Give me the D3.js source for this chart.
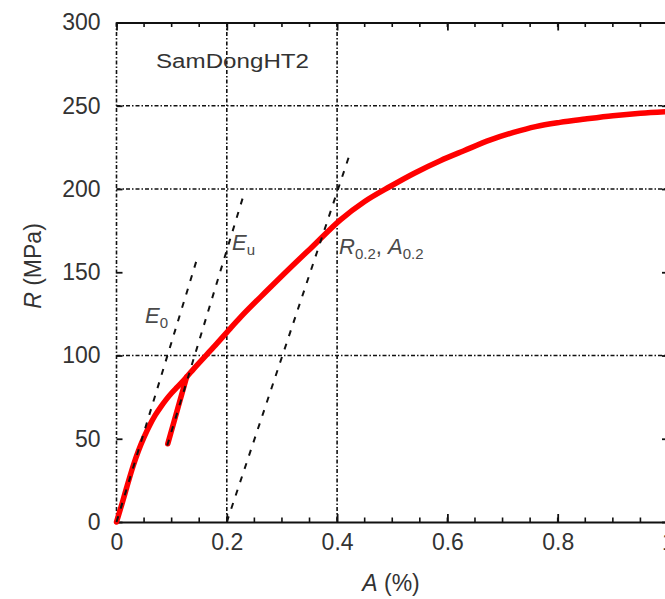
<!DOCTYPE html>
<html>
<head>
<meta charset="utf-8">
<script src="https://cdn.jsdelivr.net/npm/d3@7"></script>
<style>
  html, body { margin: 0; padding: 0; background: #fff; }
  svg { display: block; font-family: "Liberation Sans", Arial, sans-serif; }
</style>
</head>
<body>
<svg id="chart" width="665" height="599"></svg>
<script>
// Stress-strain curve (A in %, R in MPa)
const loadA = [0, 0.01, 0.02, 0.03, 0.04, 0.05, 0.06, 0.07, 0.08, 0.09, 0.1, 0.11, 0.12, 0.127,
  0.14, 0.176, 0.207, 0.225, 0.273, 0.335, 0.351, 0.406, 0.45, 0.496, 0.54, 0.587, 0.63,
  0.678, 0.72, 0.76, 0.804, 0.85, 0.9, 0.95, 1.0];
const loadR = [0, 11, 22.5, 33.5, 43, 51, 58, 64, 69, 73.5, 77.5, 81, 84.5, 87,
  92, 105, 116.5, 123, 139, 159, 164, 181.5, 192.5, 201.5, 209.5, 217, 223,
  229.5, 234, 237.5, 240, 242, 244, 245.5, 246.5];

// Small unloading branch of the loop
const unloadA = [0.127, 0.11, 0.093];
const unloadR = [87, 67, 47];

// Dashed modulus lines
const eZeroA = [0, 0.146];
const eZeroR = [0, 158];
const eUnloadA = [0.092, 0.232];
const eUnloadR = [46, 198];
const offsetA = [0.2, 0.423];
const offsetR = [0, 221];

// Axes / grid
const xTicks = [0, 0.2, 0.4, 0.6, 0.8, 1];
const xMinorTicks = d3.range(0, 1.0001, 0.05);
const yTicks = [0, 50, 100, 150, 200, 250, 300];
const gridX = [0.2, 0.4];
const gridY = [100, 200, 250];

const svg = d3.select('#chart');

const x = d3.scaleLinear().domain([0, 1]).range([116.5, 668]);
const y = d3.scaleLinear().domain([0, 300]).range([522, 22.5]);

const dashDot = '4,2,1.5,2';
const textColor = '#333';

// Grid lines
const grid = svg.append('g').attr('class', 'grid')
  .attr('stroke', '#111')
  .attr('stroke-width', 1.6)
  .attr('stroke-dasharray', dashDot);

grid.selectAll('line.gx')
  .data(gridX)
  .join('line')
  .attr('class', 'gx')
  .attr('x1', d => x(d)).attr('x2', d => x(d))
  .attr('y1', y(300)).attr('y2', y(0));

grid.selectAll('line.gy')
  .data(gridY)
  .join('line')
  .attr('class', 'gy')
  .attr('x1', x(0)).attr('x2', x(1))
  .attr('y1', d => y(d)).attr('y2', d => y(d));

// Left and right frame lines are dotted too
grid.selectAll('line.gside')
  .data([0, 1])
  .join('line')
  .attr('class', 'gside')
  .attr('x1', d => x(d)).attr('x2', d => x(d))
  .attr('y1', y(300)).attr('y2', y(0));

// Bottom axis: solid, ticks pointing up (inward)
const bottomAxis = svg.append('g').attr('class', 'x-axis')
  .attr('transform', `translate(0,${y(0)})`)
  .call(d3.axisBottom(x).tickValues(xTicks).tickSizeInner(-8).tickSizeOuter(0)
    .tickFormat(d => d3.format('~g')(d)));
bottomAxis.select('.domain').attr('stroke', '#111').attr('stroke-width', 2);
bottomAxis.selectAll('.tick line').attr('stroke', '#111').attr('stroke-width', 1.8);
bottomAxis.selectAll('.tick text')
  .attr('y', 12)
  .attr('dy', '0.71em')
  .attr('fill', textColor)
  .style('font-size', '23px');

svg.append('g').attr('class', 'x-minor')
  .selectAll('line')
  .data(xMinorTicks)
  .join('line')
  .attr('x1', d => x(d)).attr('x2', d => x(d))
  .attr('y1', y(0)).attr('y2', y(0) - 4.5)
  .attr('stroke', '#111').attr('stroke-width', 1.6);

// Top axis: solid, ticks pointing down
const topAxis = svg.append('g').attr('class', 'x-axis-top')
  .attr('transform', `translate(0,${y(300)})`)
  .call(d3.axisTop(x).tickValues(xTicks).tickSizeInner(-8).tickSizeOuter(0).tickFormat(''));
topAxis.select('.domain').attr('stroke', '#111').attr('stroke-width', 2);
topAxis.selectAll('.tick line').attr('stroke', '#111').attr('stroke-width', 1.8);

svg.append('g').attr('class', 'x-minor-top')
  .selectAll('line')
  .data(xMinorTicks)
  .join('line')
  .attr('x1', d => x(d)).attr('x2', d => x(d))
  .attr('y1', y(300)).attr('y2', y(300) + 4.5)
  .attr('stroke', '#111').attr('stroke-width', 1.6);

// Left axis: labels + inward ticks (frame line itself is the dotted one above)
const leftAxis = svg.append('g').attr('class', 'y-axis')
  .attr('transform', `translate(${x(0)},0)`)
  .call(d3.axisLeft(y).tickValues(yTicks).tickSizeInner(-6).tickSizeOuter(0));
leftAxis.select('.domain').remove();
leftAxis.selectAll('.tick line').attr('stroke', '#111').attr('stroke-width', 1.8);
leftAxis.selectAll('.tick text')
  .attr('x', -16)
  .attr('fill', textColor)
  .style('font-size', '23px');

// Right axis ticks pointing inward
const rightAxis = svg.append('g').attr('class', 'y-axis-right')
  .attr('transform', `translate(${x(1)},0)`)
  .call(d3.axisRight(y).tickValues(yTicks).tickSizeInner(-6).tickSizeOuter(0).tickFormat(''));
rightAxis.select('.domain').remove();
rightAxis.selectAll('.tick line').attr('stroke', '#111').attr('stroke-width', 1.8);

const line = d3.line().x(d => x(d[0])).y(d => y(d[1]));

// Measured curve: loading path (smooth) + the unloading branch
const smooth = d3.line().x(d => x(d[0])).y(d => y(d[1])).curve(d3.curveMonotoneX);
const curves = svg.append('g').attr('class', 'curve')
  .attr('fill', 'none')
  .attr('stroke', '#f00')
  .attr('stroke-width', 5.5)
  .attr('stroke-linejoin', 'round')
  .attr('stroke-linecap', 'round');

curves.append('path')
  .datum(d3.zip(loadA, loadR))
  .attr('d', smooth);

curves.append('path')
  .datum(d3.zip(unloadA, unloadR))
  .attr('d', line);

// Dashed modulus / offset lines, drawn over the curve
const dashed = [
  d3.zip(eZeroA, eZeroR),
  d3.zip(eUnloadA, eUnloadR),
  d3.zip(offsetA, offsetR)
];
svg.append('g').attr('class', 'moduli')
  .selectAll('path')
  .data(dashed)
  .join('path')
  .attr('d', line)
  .attr('fill', 'none')
  .attr('stroke', '#111')
  .attr('stroke-width', 2)
  .attr('stroke-dasharray', '6,8');

// Annotations
const labelColor = '#4a4a4a';
function subLabel(px, py, parts) {
  const t = svg.append('text')
    .attr('x', px).attr('y', py)
    .attr('fill', labelColor)
    .style('font-size', '22px');
  parts.forEach(p => {
    t.append('tspan')
      .attr('font-style', p.italic ? 'italic' : 'normal')
      .attr('baseline-shift', p.sub ? '-30%' : null)
      .style('font-size', p.sub ? '15px' : null)
      .text(p.text);
  });
  return t;
}

subLabel(145, 323, [{ text: 'E', italic: true }, { text: '0', sub: true }]);
subLabel(232, 250, [{ text: 'E', italic: true }, { text: 'u', sub: true }]);
subLabel(339, 254, [
  { text: 'R', italic: true }, { text: '0.2', sub: true }, { text: ', ' },
  { text: 'A', italic: true }, { text: '0.2', sub: true }
]);

svg.append('text')
  .attr('x', 156).attr('y', 68)
  .attr('fill', '#333')
  .attr('textLength', 153)
  .attr('lengthAdjust', 'spacingAndGlyphs')
  .style('font-size', '20px')
  .text('SamDongHT2');

// Axis titles
const xTitle = svg.append('text')
  .attr('x', 391).attr('y', 591)
  .attr('text-anchor', 'middle')
  .attr('fill', textColor)
  .style('font-size', '23px');
xTitle.append('tspan').attr('font-style', 'italic').text('A');
xTitle.append('tspan').text(' (%)');

const yTitle = svg.append('text')
  .attr('transform', 'translate(41,266) rotate(-90)')
  .attr('text-anchor', 'middle')
  .attr('fill', textColor)
  .style('font-size', '23px');
yTitle.append('tspan').attr('font-style', 'italic').text('R');
yTitle.append('tspan').text(' (MPa)');
</script>
</body>
</html>
